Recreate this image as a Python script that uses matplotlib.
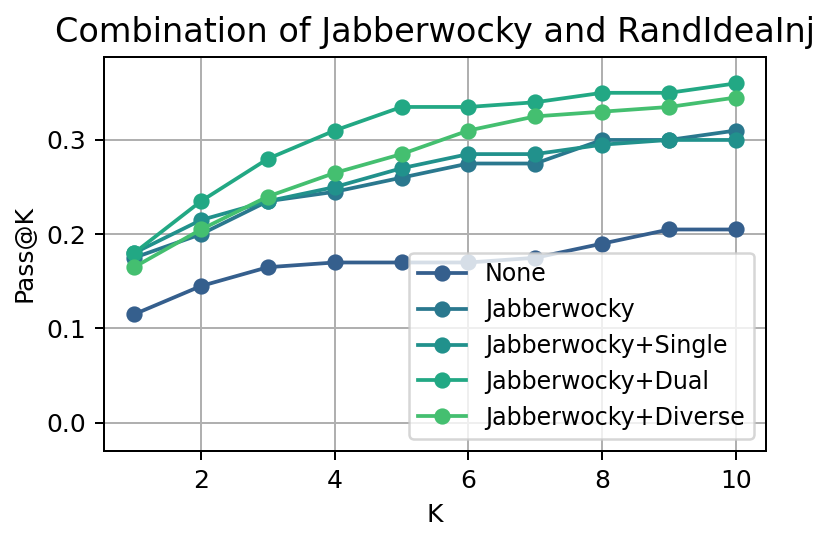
import matplotlib
matplotlib.use("Agg")
import matplotlib.pyplot as plt

k = [1, 2, 3, 4, 5, 6, 7, 8, 9, 10]

none = [0.115, 0.145, 0.165, 0.17, 0.17, 0.17, 0.175, 0.19, 0.205, 0.205]
jabber = [0.175, 0.20, 0.235, 0.245, 0.26, 0.275, 0.275, 0.30, 0.30, 0.31]
jabber_single = [0.18, 0.215, 0.235, 0.25, 0.27, 0.285, 0.285, 0.295, 0.30, 0.30]
jabber_dual = [0.18, 0.235, 0.28, 0.31, 0.335, 0.335, 0.34, 0.35, 0.35, 0.36]
jabber_diverse = [0.165, 0.205, 0.24, 0.265, 0.285, 0.31, 0.325, 0.33, 0.335, 0.345]

labels = ["None", "Jabberwocky", "Jabberwocky+Single", "Jabberwocky+Dual", "Jabberwocky+Diverse"]
series = [none, jabber, jabber_single, jabber_dual, jabber_diverse]
colors = plt.cm.viridis([0.3, 0.4, 0.5, 0.6, 0.7])

fig = plt.figure(figsize=(829 / 180, 540 / 180), dpi=180)
ax = fig.add_axes([104 / 829, 1 - 451 / 540, (766 - 104) / 829, (451 - 57) / 540])

for ys, lab, c in zip(series, labels, colors):
    ax.plot(k, ys, marker="o", markersize=5.5, color=c, label=lab, zorder=3)

ax.set_xlim(0.55, 10.45)
ax.set_ylim(-0.03, 0.388)
ax.set_yticks([0.0, 0.1, 0.2, 0.3])
ax.set_xticks([2, 4, 6, 8, 10])
ax.grid(True, color="#b0b0b0", linewidth=0.8, zorder=0)
ax.set_title("Combination of Jabberwocky and RandIdeaInj", fontsize=13.4)
ax.set_xlabel("K")
ax.set_ylabel("Pass@K")
ax.legend(loc="lower right", fontsize=9.5)

fig.savefig("out.png", dpi=180)
plt.close()
